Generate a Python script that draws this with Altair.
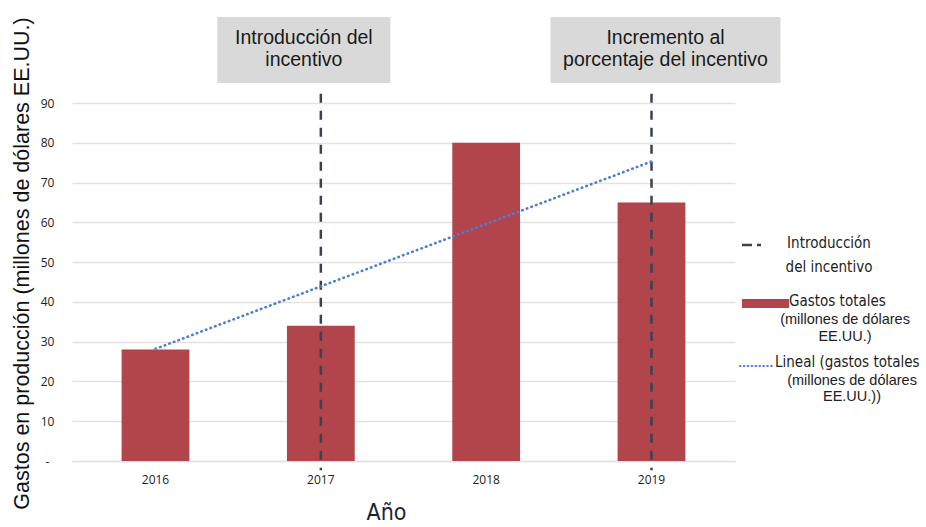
import altair as alt
import numpy as np
import pandas as pd

# Production spending per year (millions of US dollars)
anios = ["2016", "2017", "2018", "2019"]
gastos = [28, 34, 80, 65]

# Years where the incentive events happened
anios_evento = ["2017", "2019"]
textos_evento = ["Introducción del\nincentivo", "Incremento al\nporcentaje del incentivo"]

# Y axis ticks
marcas_y = [0, 10, 20, 30, 40, 50, 60, 70, 80, 90]

# Linear trend fitted to the yearly totals
idx = np.arange(len(gastos))
pendiente, intercepto = np.polyfit(idx, gastos, 1)
tendencia = (intercepto + pendiente * idx).tolist()

df = pd.DataFrame({"anio": anios, "gasto": gastos, "tendencia": tendencia})
df_evento = pd.DataFrame({"anio": anios_evento, "texto": textos_evento})

ROJO = "#b2444b"
PIZARRA = "#3a4250"
AZUL = "#4a7fd3"
GRIS_REJILLA = "#e2e2e2"
SANS = "Liberation Sans, Arial, sans-serif"
ESTRECHA = "DejaVu Sans Condensed, sans-serif"
NUMS = "Open Sans, sans-serif"

x_enc = alt.X(
    "anio:N",
    scale=alt.Scale(domain=anios, paddingInner=0.59, paddingOuter=0.3),
    axis=alt.Axis(
        title="Año",
        titleFont=ESTRECHA,
        titleFontSize=23,
        titleFontWeight="normal",
        titleColor="#1b1f3b",
        titleX=314,
        titleY=51,
        titleBaseline="middle",
        labelFont=NUMS,
        labelFontSize=12,
        labelColor="#222222",
        labelAngle=0,
        labelPadding=13,
        ticks=False,
        domainColor=GRIS_REJILLA,
        domainWidth=1.5,
    ),
)

y_scale = alt.Scale(domain=[0, 90], nice=False, zero=True)
y_axis = alt.Axis(
    title="Gastos en producción (millones de dólares EE.UU.)",
    titleFont=SANS,
    titleFontSize=21.5,
    titleFontWeight="normal",
    titleColor="#111111",
    titleX=-44,
    titleY=160,
    titleAlign="center",
    titleBaseline="alphabetic",
    values=marcas_y,
    labelExpr="datum.value == 0 ? '-' : datum.label",
    labelFont=NUMS,
    labelFontSize=12,
    labelColor="#222222",
    labelAlign="center",
    labelPadding=25,
    ticks=False,
    domain=False,
    grid=True,
    gridColor=GRIS_REJILLA,
    gridWidth=1.3,
)

barras = alt.Chart(df).mark_bar(color=ROJO).encode(
    x=x_enc,
    y=alt.Y("gasto:Q", scale=y_scale, axis=y_axis),
)

reglas = alt.Chart(df_evento).mark_rule(
    color=PIZARRA, strokeWidth=2.5, strokeDash=[9, 8]
).encode(
    x=x_enc,
    y=alt.Y(datum=92.3, scale=y_scale, axis=y_axis),
    y2=alt.Y2(datum=-2.3),
)

linea = alt.Chart(df).mark_line(
    color=AZUL, strokeWidth=2.6, strokeDash=[0.5, 4.4], strokeCap="round"
).encode(
    x=x_enc,
    y=alt.Y("tendencia:Q", scale=y_scale, axis=y_axis),
)

# Grey header boxes above each event line
estilo_cajas = [(173, -17), (230, 14)]
capas_cajas = []
for i, (ancho, desplaz) in enumerate(estilo_cajas):
    fila = df_evento.iloc[[i]]
    caja = alt.Chart(fila).mark_bar(
        color="#d9d9d9", width=ancho, xOffset=desplaz
    ).encode(x=x_enc, y=alt.value(-86), y2=alt.value(-20))
    texto = alt.Chart(fila).mark_text(
        font=SANS, fontSize=19.5, color="#1a1a1a", lineBreak="\n",
        lineHeight=22, baseline="middle", align="center", xOffset=desplaz
    ).encode(x=x_enc, y=alt.value(-65), text="texto:N")
    capas_cajas += [caja, texto]

# Hand-built legend on the right
uno = pd.DataFrame({"k": [0]})
ley = []
ley.append(alt.Chart(uno).mark_rule(color=PIZARRA, strokeWidth=2.5, strokeDash=[10, 5]).encode(
    x=alt.value(670), x2=alt.value(689), y=alt.value(142)))
ley.append(alt.Chart(uno).mark_text(font=ESTRECHA, fontSize=15, color="#222222", align="center",
                                    baseline="middle", lineBreak="\n", lineHeight=24).encode(
    x=alt.value(757), y=alt.value(140), text=alt.value("Introducción\ndel incentivo")))
ley.append(alt.Chart(uno).mark_rect(color=ROJO).encode(
    x=alt.value(670), x2=alt.value(717), y=alt.value(196), y2=alt.value(205)))
ley.append(alt.Chart(uno).mark_text(font=ESTRECHA, fontSize=15, color="#222222", align="left",
                                    baseline="middle").encode(
    x=alt.value(717), y=alt.value(198), text=alt.value("Gastos totales")))
ley.append(alt.Chart(uno).mark_text(font=SANS, fontSize=14.5, color="#222222", align="center",
                                    baseline="middle", lineBreak="\n", lineHeight=16.5).encode(
    x=alt.value(773), y=alt.value(217), text=alt.value("(millones de dólares\nEE.UU.)")))
ley.append(alt.Chart(uno).mark_rule(color=AZUL, strokeWidth=2.2, strokeDash=[0.5, 3.4], strokeCap="round").encode(
    x=alt.value(668), x2=alt.value(703), y=alt.value(263)))
ley.append(alt.Chart(uno).mark_text(font=ESTRECHA, fontSize=15, color="#222222", align="left",
                                    baseline="middle").encode(
    x=alt.value(703), y=alt.value(259), text=alt.value("Lineal (gastos totales")))
ley.append(alt.Chart(uno).mark_text(font=SANS, fontSize=14.5, color="#222222", align="center",
                                    baseline="middle", lineBreak="\n", lineHeight=16).encode(
    x=alt.value(780), y=alt.value(278), text=alt.value("(millones de dólares\nEE.UU.))")))

chart = alt.layer(barras, reglas, linea, *capas_cajas, *ley).properties(
    width=663,
    height=358,
    autosize=alt.AutoSizeParams(type="none"),
    padding={"left": 72, "top": 103, "right": 191, "bottom": 66},
    background="white",
).configure_view(stroke=None)

chart.save("out.html", embed_options={"renderer": "svg", "actions": False})
